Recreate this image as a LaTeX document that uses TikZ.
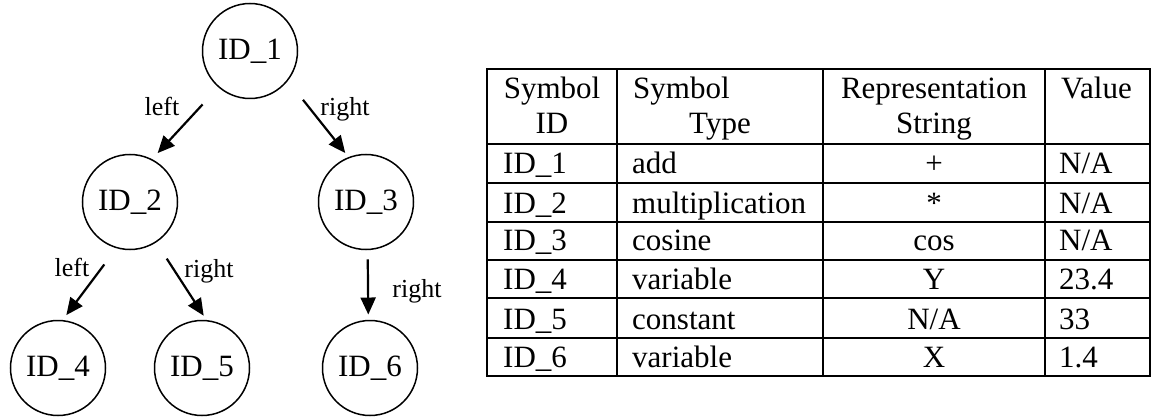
\documentclass[tikz,border=0pt]{standalone}
\usepackage{fontspec}
\setmainfont{Liberation Serif}
\usetikzlibrary{arrows.meta}
\begin{document}
\begin{tikzpicture}[x=1pt,y=-1pt,
  treenode/.style={circle, draw, line width=1.5pt, minimum size=95pt, inner sep=0pt, outer sep=0pt,
                   font=\fontsize{31}{36}\selectfont},
  edgelabel/.style={font=\fontsize{26}{30}\selectfont, inner sep=0pt},
  arr/.style={line width=2.2pt, -{Triangle[length=17pt,width=15pt]}},
  cell/.style={font=\fontsize{31}{36}\selectfont, inner sep=0pt},
  tablerule/.style={line width=2pt}
]
\useasboundingbox (0,0) rectangle (1152,417);

% expression tree
\node[treenode] (n1) at (250,51)  {ID\_1};
\node[treenode] (n2) at (130,202) {ID\_2};
\node[treenode] (n3) at (366,202) {ID\_3};
\node[treenode] (n4) at (58,368)  {ID\_4};
\node[treenode] (n5) at (202,368) {ID\_5};
\node[treenode] (n6) at (370,368) {ID\_6};

\draw[arr, shorten <=24pt, shorten >=9pt] (n1.229) -- (n2.63);
\draw[arr, shorten <=25pt, shorten >=6pt] (n1.322) -- (n3.111);
\draw[arr, shorten <=21pt, shorten >=7pt] (n2.254) -- (n4.85);
\draw[arr, shorten <=20pt, shorten >=6pt] (n2.303) -- (n5.84);
\draw[arr, shorten <=10pt, shorten >=6pt] (n3.272) -- (n6.92);

\node[edgelabel] (l1) at (162,106) {left};
\node[edgelabel] (l2) at (345,109) {right};
\node[edgelabel] (l3) at (72,267)  {left};
\node[edgelabel] (l4) at (209,271) {right};
\node[edgelabel] (l5) at (417,291) {right};

% symbol table grid
\draw[tablerule] (487,69) rectangle (1150,376);
\foreach \xc in {617,823,1045}
  \draw[tablerule] (\xc,69) -- (\xc,376);
\foreach \yr in {144,183,222,260,298,338}
  \draw[tablerule] (487,\yr) -- (1150,\yr);

% header
\node[cell, anchor=base]      (h1a) at (552,99)  {Symbol};
\node[cell, anchor=base]      (h1b) at (552,134) {ID};
\node[cell, anchor=base west] (h2a) at (633,99)  {Symbol};
\node[cell, anchor=base]      (h2b) at (720,134) {Type};
\node[cell, anchor=base]      (h3a) at (934,99)  {Representation};
\node[cell, anchor=base]      (h3b) at (934,134) {String};
\node[cell, anchor=base west] (h4a) at (1061,99) {Value};

% rows
\node[cell, anchor=base west] (r1a) at (503,174) {ID\_1};
\node[cell, anchor=base west] (r1b) at (632,174) {add};
\node[cell, anchor=base]      (r1c) at (934,174) {+};
\node[cell, anchor=base west] (r1d) at (1059,174) {N/A};

\node[cell, anchor=base west] (r2a) at (503,213) {ID\_2};
\node[cell, anchor=base west] (r2b) at (632,213) {multiplication};
\node[cell, anchor=base]      (r2c) at (934,213) {*};
\node[cell, anchor=base west] (r2d) at (1059,213) {N/A};

\node[cell, anchor=base west] (r3a) at (503,251) {ID\_3};
\node[cell, anchor=base west] (r3b) at (632,251) {cosine};
\node[cell, anchor=base]      (r3c) at (934,251) {cos};
\node[cell, anchor=base west] (r3d) at (1059,251) {N/A};

\node[cell, anchor=base west] (r4a) at (503,289) {ID\_4};
\node[cell, anchor=base west] (r4b) at (632,289) {variable};
\node[cell, anchor=base]      (r4c) at (934,289) {Y};
\node[cell, anchor=base west] (r4d) at (1059,289) {23.4};

\node[cell, anchor=base west] (r5a) at (503,329) {ID\_5};
\node[cell, anchor=base west] (r5b) at (632,329) {constant};
\node[cell, anchor=base]      (r5c) at (934,329) {N/A};
\node[cell, anchor=base west] (r5d) at (1059,329) {33};

\node[cell, anchor=base west] (r6a) at (503,367) {ID\_6};
\node[cell, anchor=base west] (r6b) at (632,367) {variable};
\node[cell, anchor=base]      (r6c) at (934,367) {X};
\node[cell, anchor=base west] (r6d) at (1059,367) {1.4};
\end{tikzpicture}
\end{document}
